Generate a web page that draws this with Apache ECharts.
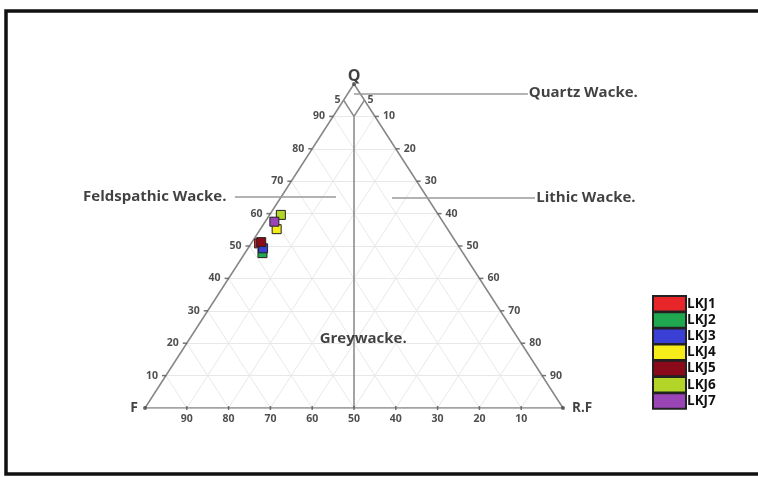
<!DOCTYPE html>
<html>
<head>
<meta charset="utf-8">
<script src="https://cdn.jsdelivr.net/npm/echarts@6/dist/echarts.min.js"></script>
<style>
  html, body { margin: 0; padding: 0; background: #fff; }
  #chart { width: 758px; height: 477px; }
</style>
</head>
<body>
<div id="chart"></div>
<script>
// Samples plotted in the Q - F - R.F ternary diagram (percent)
const categories = ['LKJ1', 'LKJ2', 'LKJ3', 'LKJ4', 'LKJ5', 'LKJ6', 'LKJ7'];
const quartz = [50.8, 47.8, 49.3, 55.2, 51.2, 59.6, 57.5];
const feldspar = [47.3, 48.0, 47.1, 40.9, 46.6, 37.7, 40.3];
const rockFragments = [1.9, 4.2, 3.6, 3.9, 2.2, 2.7, 2.2];
const sampleColors = ['#e8262a', '#1fa84f', '#3a3fd6', '#f5ec1a', '#8b0a1a', '#b3d527', '#9a45b5'];

// Tick labels along the three sides
const baseTicks = [90, 80, 70, 60, 50, 40, 30, 20, 10];     // F % along the base
const leftTicks = [10, 20, 30, 40, 50, 60, 70, 80, 90];     // Q % along the left side
const rightTicks = [10, 20, 30, 40, 50, 60, 70, 80, 90];    // R.F % along the right side
const gridSteps = [10, 20, 30, 40, 50, 60, 70, 80, 90];

// Field names
const fieldNames = ['Quartz Wacke.', 'Feldspathic Wacke.', 'Lithic Wacke.', 'Greywacke.'];

const FONT = '"Open Sans", "DejaVu Sans", sans-serif';

// Ternary (Q, F, R.F) -> cartesian [x, y] with F at (0,0), R.F at (1,0), Q at (0.5,1)
function tern(q, f, r) {
  const s = q + f + r;
  const Q = q / s, R = r / s;
  return [R + Q / 2, Q];
}

// Light grid lines parallel to each side
const gridLines = [];
gridSteps.forEach(function (v) {
  gridLines.push({ coords: [tern(v, 100 - v, 0), tern(v, 0, 100 - v)] });           // constant Q
  gridLines.push({ coords: [tern(0, 100 - v, v), tern(100 - v, 0, v)] });           // constant R.F
  gridLines.push({ coords: [tern(0, v, 100 - v), tern(100 - v, v, 0)] });           // constant F
});

// Triangle outline
const frameLines = [
  { coords: [tern(0, 100, 0), tern(100, 0, 0)] },
  { coords: [tern(100, 0, 0), tern(0, 0, 100)] },
  { coords: [tern(0, 100, 0), tern(0, 0, 100)] }
];

// Field boundaries: quartz wacke diamond and the F = R.F divide
const fieldLines = [
  { coords: [tern(95, 5, 0), tern(90, 5, 5)] },
  { coords: [tern(95, 0, 5), tern(90, 5, 5)] },
  { coords: [tern(90, 5, 5), tern(0, 50, 50)] }
];

// Leader lines for the field names (cartesian units of the plot area)
const leaderLines = [
  { coords: [[0.5, 0.971], [0.916, 0.971]] },
  { coords: [[0.215, 0.651], [0.457, 0.651]] },
  { coords: [[0.591, 0.648], [0.933, 0.648]] }
];

const tickText = { color: '#222', fontSize: 10.5, fontWeight: 'bold', fontFamily: FONT };

function tickSeries(points, labels, pos, dist, dashSize, dashOffset) {
  return {
    type: 'scatter', silent: true, z: 3,
    symbol: 'rect', symbolSize: dashSize, symbolOffset: dashOffset,
    itemStyle: { color: '#555' },
    label: {
      show: true, position: pos, distance: dist,
      formatter: function (p) { return labels[p.dataIndex]; },
      ...tickText
    },
    data: points
  };
}

const series = [];

series.push({
  type: 'lines', coordinateSystem: 'cartesian2d', silent: true, z: 1,
  lineStyle: { color: '#e8e8e8', width: 1, opacity: 1 },
  data: gridLines
});
series.push({
  type: 'lines', coordinateSystem: 'cartesian2d', silent: true, z: 2,
  lineStyle: { color: '#858585', width: 1.5, opacity: 1 },
  data: frameLines.concat(fieldLines)
});
series.push({
  type: 'lines', coordinateSystem: 'cartesian2d', silent: true, z: 2,
  lineStyle: { color: '#9a9a9a', width: 1.5, opacity: 1 },
  data: leaderLines
});

// Side ticks and labels
series.push(tickSeries(
  baseTicks.map(function (v) { return tern(0, v, 100 - v); }),
  baseTicks.map(String), 'bottom', 4, [1.5, 4], [0, 0]));
series.push(tickSeries(
  leftTicks.map(function (v) { return tern(v, 100 - v, 0); }),
  leftTicks.map(String), 'left', 4, [4, 1.5], [-2, 0]));
series.push(tickSeries(
  rightTicks.map(function (v) { return tern(100 - v, 0, v); }),
  rightTicks.map(String), 'right', 4, [4, 1.5], [2, 0]));

// "5" marks at the quartz wacke boundary
series.push({
  type: 'scatter', silent: true, symbolSize: 0, z: 3,
  label: { show: true, position: 'left', distance: 3, formatter: '5', ...tickText },
  data: [tern(95, 5, 0)]
});
series.push({
  type: 'scatter', silent: true, symbolSize: 0, z: 3,
  label: { show: true, position: 'right', distance: 3, formatter: '5', ...tickText },
  data: [tern(95, 0, 5)]
});

// Apex names
const apexText = { color: '#111', fontWeight: 'bold', fontFamily: FONT };
series.push({
  type: 'scatter', silent: true, z: 4,
  symbol: 'circle', symbolSize: 4, itemStyle: { color: '#444' },
  data: [
    { value: tern(100, 0, 0), label: { show: true, position: 'top', distance: -2, formatter: 'Q', fontSize: 16, ...apexText } },
    { value: tern(0, 100, 0), label: { show: true, position: 'left', distance: 5, formatter: 'F', fontSize: 14, ...apexText } },
    { value: tern(0, 0, 100), label: { show: true, position: 'right', distance: 7, formatter: 'R.F', fontSize: 13.5, ...apexText } }
  ]
});

// Field names
const fieldText = { color: '#111', fontWeight: 'bold', fontFamily: FONT, fontSize: 15 };
series.push({
  type: 'scatter', silent: true, symbolSize: 0, z: 4,
  data: [
    { value: [0.918, 0.972], label: { show: true, position: 'right', distance: 0, formatter: fieldNames[0], ...fieldText } },
    { value: [0.195, 0.652], label: { show: true, position: 'left', distance: 0, formatter: fieldNames[1], ...fieldText } },
    { value: [0.936, 0.649], label: { show: true, position: 'right', distance: 0, formatter: fieldNames[2], ...fieldText } },
    { value: [0.522, 0.213], label: { show: true, position: 'inside', formatter: fieldNames[3], ...fieldText } }
  ]
});

// Samples
categories.forEach(function (name, i) {
  series.push({
    name: name,
    type: 'scatter',
    z: 10,
    symbol: 'rect',
    symbolSize: 9,
    itemStyle: { color: sampleColors[i], borderColor: '#222', borderWidth: 1, opacity: 1 },
    data: [tern(quartz[i], feldspar[i], rockFragments[i])]
  });
});

const chart = echarts.init(document.getElementById('chart'), null, { renderer: 'canvas' });
chart.setOption({
  animation: false,
  backgroundColor: '#fff',
  grid: { left: 145, top: 84, width: 418, height: 324, containLabel: false },
  xAxis: { type: 'value', min: 0, max: 1, show: false },
  yAxis: { type: 'value', min: 0, max: 1, show: false },
  legend: {
    orient: 'vertical',
    left: 652, top: 295,
    padding: 0,
    icon: 'rect',
    itemWidth: 33, itemHeight: 15.5, itemGap: -1.3,
    textStyle: { color: '#111', fontSize: 13.5, fontWeight: 'bold', fontFamily: FONT, padding: [0, 0, 0, -4] },
    data: categories
  },
  graphic: [{
    type: 'polyline', silent: true, z: 100,
    shape: { points: [[800, 11], [6, 11], [6, 474], [800, 474]] },
    style: { fill: 'none', stroke: '#111', lineWidth: 3.5 }
  }],
  series: series
});
</script>
</body>
</html>
